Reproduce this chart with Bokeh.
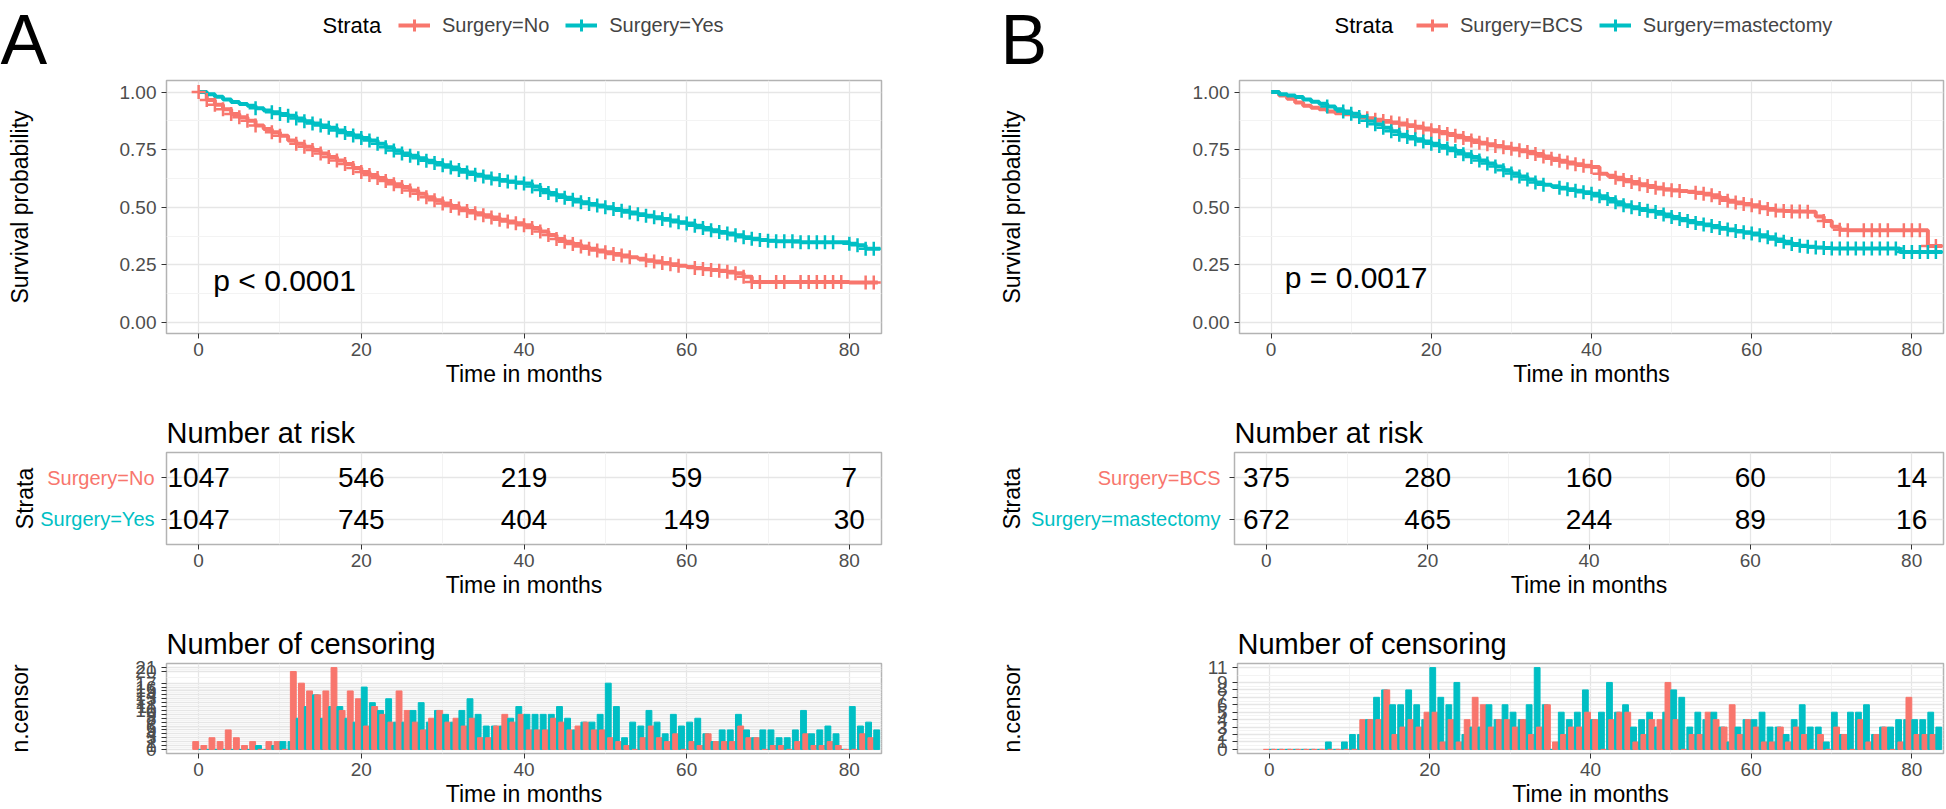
import numpy as np
from bokeh.plotting import figure
from bokeh.models import Range1d, FixedTicker, Label, Legend, LegendItem, ColumnDataSource
from bokeh.layouts import row, column
from bokeh.embed import file_html
from bokeh.resources import INLINE
from bokeh.core.properties import value

RED = "#F8766D"
TEAL = "#00BFC4"
FONT = "Liberation Sans"

months = list(range(84))
x_ticks = [0, 20, 40, 60, 80]
x_minor = [10, 30, 50, 70]

# ---------------- Panel A ----------------
A_letter = "A"
A_strata = ["Surgery=No", "Surgery=Yes"]
A_pval = "p < 0.0001"
A_no_t = list(range(69)) + [80, 83.5]
A_no_s = [1.000, 0.965, 0.945, 0.925, 0.905, 0.890, 0.875, 0.855, 0.840, 0.825,
          0.810, 0.790, 0.775, 0.762, 0.748, 0.733, 0.718, 0.703, 0.688, 0.670,
          0.653, 0.640, 0.627, 0.614, 0.600, 0.588, 0.573, 0.558, 0.543, 0.530,
          0.516, 0.505, 0.495, 0.484, 0.474, 0.465, 0.455, 0.446, 0.438, 0.430,
          0.422, 0.410, 0.395, 0.380, 0.362, 0.350, 0.340, 0.330, 0.320, 0.312,
          0.305, 0.297, 0.290, 0.283, 0.276, 0.270, 0.264, 0.258, 0.252, 0.246,
          0.241, 0.236, 0.232, 0.228, 0.224, 0.220, 0.214, 0.198, 0.176,
          0.173, 0.173]
A_yes_t = list(range(71)) + [71, 74, 80, 81, 82, 83.8]
A_yes_s = [1.000, 0.990, 0.980, 0.968, 0.957, 0.948, 0.940, 0.930, 0.920, 0.912,
           0.905, 0.897, 0.885, 0.873, 0.863, 0.855, 0.845, 0.833, 0.822, 0.811,
           0.800, 0.790, 0.775, 0.760, 0.746, 0.733, 0.723, 0.713, 0.702, 0.692,
           0.682, 0.672, 0.662, 0.651, 0.641, 0.633, 0.625, 0.618, 0.612, 0.607,
           0.603, 0.590, 0.575, 0.562, 0.552, 0.541, 0.532, 0.522, 0.514, 0.507,
           0.500, 0.492, 0.485, 0.477, 0.470, 0.463, 0.456, 0.449, 0.442, 0.435,
           0.429, 0.420, 0.410, 0.400, 0.392, 0.386, 0.378, 0.370, 0.363, 0.358,
           0.355,
           0.352, 0.348, 0.342, 0.335, 0.320, 0.320]
A_risk_t = [0, 20, 40, 60, 80]
A_risk_no = [1047, 546, 219, 59, 7]
A_risk_yes = [1047, 745, 404, 149, 30]
A_cens_no = [2, 1, 3, 2, 5, 3, 1, 2, 0, 2,
             2, 0, 20, 17, 15, 14, 15, 21, 10, 15,
             13, 6, 11, 9, 7, 15, 10, 7, 5, 8,
             10, 7, 8, 6, 8, 3, 3, 6, 9, 7,
             9, 5, 5, 5, 8, 7, 5, 6, 7, 5,
             5, 3, 2, 1, 0, 3, 6, 3, 2, 4,
             0, 2, 1, 4, 2, 2, 2, 6, 3, 3,
             0, 1, 1, 0, 2, 4, 1, 1, 2, 1,
             0, 0, 4, 3]
A_cens_yes = [0, 0, 0, 0, 0, 0, 0, 1, 0, 1,
              2, 2, 8, 11, 14, 8, 11, 11, 8, 7,
              16, 12, 10, 13, 7, 7, 10, 12, 7, 10,
              9, 7, 10, 13, 9, 6, 6, 6, 8, 11,
              9, 9, 9, 9, 11, 8, 5, 7, 7, 9,
              17, 11, 3, 7, 6, 10, 7, 4, 9, 6,
              7, 8, 4, 2, 5, 5, 9, 5, 3, 5,
              5, 3, 3, 5, 10, 4, 5, 6, 4, 0,
              11, 6, 7, 5]

# ---------------- Panel B ----------------
B_letter = "B"
B_strata = ["Surgery=BCS", "Surgery=mastectomy"]
B_pval = "p = 0.0017"
B_bcs_t = list(range(73)) + [82, 83.8]
B_bcs_s = [1.000, 0.985, 0.971, 0.955, 0.940, 0.932, 0.925, 0.915, 0.908, 0.903,
           0.899, 0.893, 0.886, 0.880, 0.874, 0.868, 0.863, 0.856, 0.849, 0.842,
           0.834, 0.826, 0.818, 0.810, 0.800, 0.790, 0.780, 0.773, 0.766, 0.760,
           0.754, 0.747, 0.740, 0.731, 0.720, 0.710, 0.702, 0.694, 0.686, 0.680,
           0.675, 0.645, 0.637, 0.628, 0.618, 0.610, 0.600, 0.592, 0.585, 0.578,
           0.574, 0.570, 0.567, 0.563, 0.558, 0.552, 0.540, 0.528, 0.520, 0.514,
           0.509, 0.500, 0.492, 0.486, 0.484, 0.482, 0.481, 0.480, 0.460, 0.440,
           0.415, 0.402, 0.400,
           0.332, 0.332]
B_mast_t = list(range(71)) + [78.5, 83.8]
B_mast_s = [1.000, 0.990, 0.985, 0.978, 0.968, 0.958, 0.949, 0.937, 0.925, 0.915,
            0.906, 0.892, 0.875, 0.860, 0.845, 0.830, 0.815, 0.805, 0.795, 0.785,
            0.776, 0.766, 0.755, 0.744, 0.730, 0.718, 0.703, 0.690, 0.677, 0.660,
            0.646, 0.633, 0.620, 0.607, 0.598, 0.591, 0.585, 0.578, 0.571, 0.565,
            0.559, 0.548, 0.536, 0.522, 0.509, 0.500, 0.492, 0.485, 0.479, 0.468,
            0.458, 0.449, 0.440, 0.432, 0.425, 0.418, 0.410, 0.403, 0.397, 0.391,
            0.386, 0.378, 0.370, 0.360, 0.350, 0.340, 0.333, 0.328, 0.325, 0.323,
            0.321,
            0.306, 0.306]
B_risk_t = [0, 20, 40, 60, 80]
B_risk_bcs = [375, 280, 160, 60, 14]
B_risk_mast = [672, 465, 244, 89, 16]
B_cens_bcs = [0, 0, 0, 0, 0, 0, 0, 0, 0, 0,
              0, 0, 4, 4, 4, 8, 2, 3, 4, 3,
              5, 5, 1, 4, 1, 4, 7, 6, 3, 4,
              4, 3, 4, 2, 3, 6, 1, 2, 3, 3,
              5, 4, 0, 4, 5, 5, 1, 2, 4, 4,
              9, 4, 0, 2, 2, 5, 4, 3, 6, 2,
              4, 3, 1, 1, 3, 1, 3, 2, 0, 2,
              0, 3, 2, 0, 4, 1, 2, 3, 0, 1,
              7, 2, 2, 2]
B_cens_mast = [0, 0, 0, 0, 0, 0, 0, 1, 0, 1,
               2, 2, 4, 7, 8, 6, 6, 8, 6, 4,
               11, 7, 6, 9, 2, 3, 3, 6, 4, 6,
               5, 4, 6, 11, 6, 0, 5, 4, 5, 8,
               4, 5, 9, 5, 6, 3, 4, 5, 3, 5,
               8, 7, 3, 5, 4, 5, 3, 1, 3, 4,
               4, 5, 3, 3, 2, 4, 6, 3, 3, 1,
               5, 2, 5, 5, 6, 2, 3, 3, 4, 4,
               4, 4, 5, 3]

# ---------------- layout geometry (page px, page origin at 0,0) ----------------
XR = (-3.95, 83.95)
KM_YR = (-0.048, 1.05)
RISK_YR = (0.4, 2.6)
HDR_H = 79
HDR_Y0 = 100                           # header y-range starts above the KM data
KM_H, KM_BT, KM_FH = 321, 1, 253      # frame 80..333
RK_H, RK_BT, RK_FH = 208, 52, 92      # frame 452..544
CN_H, CN_BT, CN_FH = 201, 55, 90      # frame 663..753
RK_AXIS = 9                            # width kept for the risk table's tick marks


def noalign(p):
    try:
        p.frame_align = False
    except Exception:
        pass
    return p


def style(p, ylab, ystand, xlab, ytick_size="19px"):
    p.outline_line_color = "#B3B3B3"
    p.outline_line_width = 1.5
    p.background_fill_color = "white"
    p.border_fill_color = "white"
    p.xaxis.ticker = FixedTicker(ticks=x_ticks, minor_ticks=x_minor)
    for ax in (p.xaxis, p.yaxis):
        ax.axis_line_color = None
        ax.major_tick_line_color = "#333333"
        ax.major_tick_out = 5
        ax.major_tick_in = 0
        ax.minor_tick_line_color = None
        ax.major_label_text_font = FONT
        ax.major_label_text_color = "#4D4D4D"
        ax.major_label_text_font_size = "19px"
        ax.axis_label_text_font = FONT
        ax.axis_label_text_font_style = "normal"
        ax.axis_label_text_font_size = "23px"
        ax.axis_label_text_color = "black"
    p.yaxis.major_label_text_font_size = ytick_size
    p.xaxis.axis_label = xlab
    if ylab is not None:
        p.yaxis.axis_label = ylab
        p.yaxis.axis_label_standoff = ystand
    p.xaxis.major_label_standoff = 4
    p.xaxis.axis_label_standoff = 2
    p.yaxis.major_label_standoff = 5
    for g in (p.xgrid, p.ygrid):
        g.grid_line_color = "#E6E6E6"
        g.grid_line_width = 1.3
        g.minor_grid_line_color = "#F3F3F3"
        g.minor_grid_line_width = 1
    noalign(p)


def bare(width, height, xr, yr, bt=0, bb=0):
    p = figure(width=width, height=height, x_range=Range1d(*xr), y_range=Range1d(*yr),
               output_backend="svg", toolbar_location=None, title=None,
               x_axis_location=None, y_axis_location=None,
               min_border_left=0, min_border_right=0, min_border_top=bt,
               min_border_bottom=bb)
    p.outline_line_color = None
    p.xgrid.visible = False
    p.ygrid.visible = False
    p.background_fill_color = "white"
    p.border_fill_color = "white"
    noalign(p)
    return p


def step_lookup(t, s, m):
    idx = np.searchsorted(np.asarray(t, float), m, side="right") - 1
    return float(s[idx])


def make_panel(P):
    W, fw, cx = P["W"], P["fw"], P["col_x"]
    bl = P["frame_left"] - cx
    br = W - bl - fw

    # censoring-mark positions on the curves
    cmarks = []
    for (t, s), cens in zip(P["km"], P["cens"]):
        cm = [m for m, c in zip(months, cens) if c > 0 and m <= t[-1]]
        cmarks.append((cm, [step_lookup(t, s, m) for m in cm]))

    # ---------- header (letter + legend) ----------
    hd = bare(W, HDR_H, (0, W), (HDR_Y0, HDR_Y0 + HDR_H))
    hd.add_layout(Label(x=P["letter_x"] - cx, y=HDR_Y0 + HDR_H - 39.5, text=P["letter"],
                        text_font=FONT, text_font_size="70px",
                        text_baseline="middle", text_color="black"))
    hd.add_layout(Label(x=P["strata_x"] - cx, y=HDR_Y0 + HDR_H - 25, text="Strata",
                        text_font=FONT, text_font_size="22px",
                        text_baseline="middle", text_color="black"))
    keys = []
    for (t, s), (cm, cy), col in zip(P["km"], cmarks, (RED, TEAL)):
        # legend proxies: same series, drawn below the header's visible y-range
        kl = hd.step(x=t, y=s, mode="after", line_color=col, line_width=4)
        kc = hd.scatter(x=cm, y=cy, marker="cross", size=16, line_width=3, line_color=col)
        keys.append([kl, kc])
    leg = Legend(items=[LegendItem(label=P["strata"][0], renderers=keys[0]),
                        LegendItem(label=P["strata"][1], renderers=keys[1])],
                 location=(P["legend_x"] - cx, HDR_H - 40),
                 orientation="horizontal", glyph_width=32, glyph_height=30,
                 label_standoff=12, spacing=16, padding=0, margin=0,
                 border_line_color=None, background_fill_alpha=0,
                 label_text_font=FONT, label_text_font_size="20px")
    hd.add_layout(leg)

    # ---------- KM plot ----------
    km = figure(width=W, height=KM_H, x_range=Range1d(*XR), y_range=Range1d(*KM_YR),
                output_backend="svg", toolbar_location=None, title=None,
                min_border_left=bl, min_border_right=br, min_border_top=KM_BT,
                min_border_bottom=KM_H - KM_BT - KM_FH)
    style(km, "Survival probability", P["st_km"], "Time in months")
    km.yaxis.ticker = FixedTicker(ticks=[0, 0.25, 0.5, 0.75, 1.0],
                                  minor_ticks=[0.125, 0.375, 0.625, 0.875])
    km.yaxis.major_label_overrides = {0: "0.00", 0.25: "0.25", 0.5: "0.50",
                                      0.75: "0.75", 1: "1.00"}
    for (t, s), col in zip(P["km"], [RED, TEAL]):
        km.step(x=t, y=s, mode="after", line_color=col, line_width=4)
    for (cm, cy), col in zip(cmarks, [RED, TEAL]):
        km.scatter(x=cm, y=cy, marker="cross", size=14, line_width=2.5, line_color=col)
    km.add_layout(Label(x=P["pval_xy"][0], y=P["pval_xy"][1], text=P["pval"],
                        text_font=FONT, text_font_size="30px", text_baseline="middle",
                        text_color="black"))

    # ---------- risk table: label strip + table ----------
    lw = bl - RK_AXIS
    rl = bare(lw, RK_H, (0, lw), RISK_YR, bt=RK_BT, bb=RK_H - RK_BT - RK_FH)
    lsrc = ColumnDataSource(dict(x=[P["lab_right"] - cx] * 2, y=[2, 1],
                                 t=P["strata"], c=[RED, TEAL]))
    rl.text(x="x", y="y", text="t", text_color="c", source=lsrc, text_align="right",
            text_baseline="middle", text_font=value(FONT), text_font_size="20px")
    rl.text(x=[P["strata_lab_x"] - cx], y=[1.5], text=["Strata"], angle=np.pi / 2,
            text_align="center", text_baseline="middle", text_font=value(FONT),
            text_font_size="23px", text_color="black")

    rk = figure(width=W - lw, height=RK_H, x_range=Range1d(*XR), y_range=Range1d(*RISK_YR),
                output_backend="svg", toolbar_location=None, title="Number at risk",
                min_border_left=RK_AXIS, min_border_right=br, min_border_top=RK_BT,
                min_border_bottom=RK_H - RK_BT - RK_FH)
    style(rk, None, 0, "Time in months")
    rk.yaxis.ticker = FixedTicker(ticks=[1, 2], minor_ticks=[])
    rk.yaxis.major_label_overrides = {1: "", 2: ""}
    rk.yaxis.major_label_standoff = 0
    rk.title.text_font = FONT
    rk.title.text_font_size = "29px"
    rk.title.text_font_style = "normal"
    rk.title.text_color = "black"
    rk.title.align = "left"
    rk.title.standoff = 8
    src = ColumnDataSource(dict(
        t=P["risk_t"] + P["risk_t"],
        r=[2] * len(P["risk_t"]) + [1] * len(P["risk_t"]),
        n=[str(v) for v in P["risk"][0]] + [str(v) for v in P["risk"][1]]))
    rk.text(x="t", y="r", text="n", source=src, text_align="center",
            text_baseline="middle", text_font=value(FONT), text_font_size="28px",
            text_color="black")

    # ---------- censoring ----------
    allc = sorted(set(P["cens"][0]) | set(P["cens"][1]))
    cmax = max(allc)
    cyr = (-0.05 * cmax, 1.05 * cmax)
    cn = figure(width=W, height=CN_H, x_range=Range1d(*XR), y_range=Range1d(*cyr),
                output_backend="svg", toolbar_location=None, title="Number of censoring",
                min_border_left=bl, min_border_right=br, min_border_top=CN_BT,
                min_border_bottom=CN_H - CN_BT - CN_FH)
    style(cn, "n.censor", P["st_cn"], "Time in months", ytick_size="19px")
    cn.yaxis.ticker = FixedTicker(ticks=allc,
                                  minor_ticks=[(a + b) / 2 for a, b in zip(allc[:-1], allc[1:])])
    cn.title.text_font = FONT
    cn.title.text_font_size = "29px"
    cn.title.text_font_style = "normal"
    cn.title.text_color = "black"
    cn.title.align = "left"
    cn.title.standoff = 8
    xs, tops, cols = [], [], []
    for m, a, b in zip(months, P["cens"][0], P["cens"][1]):
        xs += [m - 0.36, m + 0.36]
        tops += [a, b]
        cols += [RED, TEAL]
    cn.vbar(x=xs, top=tops, bottom=0, width=0.72, fill_color=cols, line_color=cols,
            line_width=1)
    return column(hd, km, row(rl, rk), cn)


PA = dict(W=995, frame_left=166, fw=715, col_x=0, letter="A", letter_x=0, strata_x=322,
          legend_x=398, lab_right=154, strata_lab_x=24, st_km=84, st_cn=99,
          strata=A_strata, pval=A_pval, pval_xy=(1.8, 0.183),
          km=[(A_no_t, A_no_s), (A_yes_t, A_yes_s)],
          risk_t=A_risk_t, risk=[A_risk_no, A_risk_yes],
          cens=[A_cens_no, A_cens_yes])
PB = dict(W=951, frame_left=1234, fw=709, col_x=995, letter="B", letter_x=1000,
          strata_x=1334, legend_x=1416, lab_right=1220, strata_lab_x=1011, st_km=165,
          st_cn=180, strata=B_strata, pval=B_pval, pval_xy=(1.7, 0.194),
          km=[(B_bcs_t, B_bcs_s), (B_mast_t, B_mast_s)],
          risk_t=B_risk_t, risk=[B_risk_bcs, B_risk_mast],
          cens=[B_cens_bcs, B_cens_mast])

layout = row(make_panel(PA), make_panel(PB))
open("out.html", "w").write(file_html(layout, INLINE))
